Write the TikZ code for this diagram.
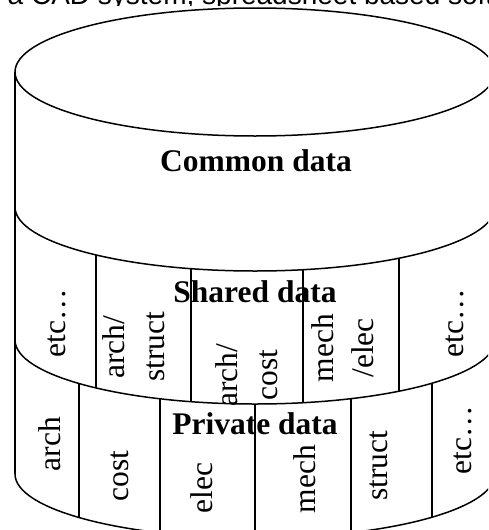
\documentclass[tikz,border=0pt]{standalone}
\usepackage{fontspec}
\setmainfont{Liberation Serif}
\newfontfamily\captionfont{Liberation Sans}
\tikzset{
  title/.style={font=\fontsize{31.5}{40}\selectfont\bfseries},
  field/.style={rotate=90, align=center, font=\fontsize{31.5}{40}\selectfont},
}

\begin{document}
\begin{tikzpicture}[x=1pt,y=-1pt,line width=1.5pt]
 \useasboundingbox (0,0) rectangle (488,530);
 \clip (0,0) rectangle (488,530);
 % line of text above, mostly hidden
 \node[anchor=base west,inner sep=0pt,font=\captionfont\fontsize{28}{32}\selectfont] (caption) at (7,5) {a CAD system, spreadsheet based software};
 \fill[white] (0,6) rectangle (488,530);
 % the store
 \draw (255,72) ellipse [x radius=240,y radius=64];
 \draw (15,72) -- (15,474);
 \draw (495,72) -- (495,474);
 \foreach \yb in {207,340,474}
  \draw (15,\yb) arc [start angle=180,end angle=0,x radius=240,y radius=64];
 % shared slots
 \foreach \x in {96,191,303,399}{
  \pgfmathsetmacro\dy{64*sqrt(1-((\x-255)/240)^2)}
  \draw (\x,{207+\dy}) -- (\x,{340+\dy});
 }
 % private slots
 \foreach \x in {79,160,255,351,432}{
  \pgfmathsetmacro\dy{64*sqrt(1-((\x-255)/240)^2)}
  \draw (\x,{340+\dy}) -- (\x,{474+\dy});
 }
 \node[title] (common) at (256,161) {Common data};
 \node[title] (shared) at (255,292) {Shared data};
 \node[title] (private) at (255,424) {Private data};
 \node[field] (setc1) at (57,323) {etc…};
 \node[field] (sarchstruct) at (134,347) {arch/\\struct};
 \node[field] (sarchcost) at (247,375) {arch/\\cost};
 \node[field] (smechelec) at (343,348) {mech\\/elec};
 \node[field] (setc2) at (455,323) {etc…};
 \node[field] (parch) at (50,444) {arch};
 \node[field] (pcost) at (120,476) {cost};
 \node[field] (pelec) at (202,488) {elec};
 \node[field] (pmech) at (305,479) {mech};
 \node[field] (pstruct) at (379,466) {struct};
 \node[field] (petc) at (463,440) {etc…};
\end{tikzpicture}
\end{document}
